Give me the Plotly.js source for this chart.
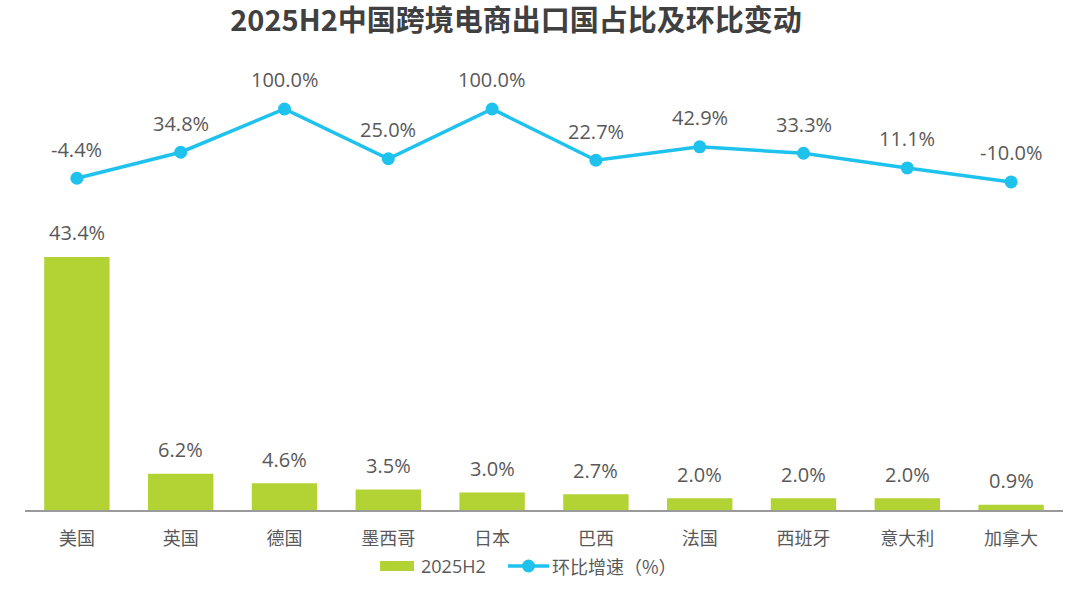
<!DOCTYPE html>
<html><head><meta charset="utf-8">
<script src="https://cdn.plot.ly/plotly-3.0.1.min.js"></script>
<style>html,body{margin:0;padding:0;background:#fff;}#chart{width:1080px;height:592px;}</style>
</head><body><div id="chart"></div>
<script>
const categories = ['美国','英国','德国','墨西哥','日本','巴西','法国','西班牙','意大利','加拿大'];
const shareValues = [43.4, 6.2, 4.6, 3.5, 3.0, 2.7, 2.0, 2.0, 2.0, 0.9];
const growthValues = [-4.4, 34.8, 100.0, 25.0, 100.0, 22.7, 42.9, 33.3, 11.1, -10.0];
const barName = '2025H2';
const lineName = '环比增速（%）';

const FONT = '"Open Sans", "Noto Sans CJK SC", sans-serif';
const CJK = '"Noto Sans CJK SC", "Open Sans", sans-serif';
const GRAY = '#595959';
const GREEN = '#b3d334';
const BLUE = '#1ec2ec';
const W = 1080, H = 592, ML = 25, MR = 17, MT = 60, MB = 82;
const px = v => (v - ML) / (W - ML - MR);
const py = v => (H - MB - v) / (H - MT - MB);

const traces = [
  {type:'bar', x:categories, y:shareValues, name:barName, marker:{color:GREEN}, yaxis:'y', hoverinfo:'none'},
  {type:'scatter', mode:'lines+markers', x:categories, y:growthValues, name:lineName, yaxis:'y2',
   line:{color:BLUE, width:3.5}, marker:{color:BLUE, size:13}, hoverinfo:'none'}
];

const annotations = [];
categories.forEach((c,i)=>{
  annotations.push({x:c, y:shareValues[i], yref:'y', xref:'x', text:shareValues[i].toFixed(1)+'%',
    showarrow:false, yshift:24, font:{family:FONT, size:20, color:GRAY}});
  annotations.push({x:c, y:growthValues[i], yref:'y2', xref:'x', text:growthValues[i].toFixed(1)+'%',
    showarrow:false, yshift:29, font:{family:FONT, size:20, color:GRAY}});
});
// custom legend
annotations.push({xref:'paper', yref:'paper', x:px(419), y:py(566), xanchor:'left', yanchor:'middle',
  text:barName, showarrow:false, font:{family:FONT, size:18, color:GRAY}});
annotations.push({xref:'paper', yref:'paper', x:px(550), y:py(566), xanchor:'left', yanchor:'middle',
  text:lineName, showarrow:false, font:{family:CJK, size:18, color:GRAY}});

const shapes = [
  {type:'rect', xref:'paper', yref:'paper', x0:px(380), x1:px(414), y0:py(571), y1:py(561),
   fillcolor:GREEN, line:{width:0}},
  {type:'line', xref:'paper', yref:'paper', x0:px(508), x1:px(549), y0:py(566), y1:py(566),
   line:{color:BLUE, width:3.5}},
  {type:'circle', xref:'paper', yref:'paper', x0:px(522), x1:px(535), y0:py(572.5), y1:py(559.5),
   fillcolor:BLUE, line:{width:0}}
];

const layout = {
  width:W, height:H,
  margin:{l:ML, r:MR, t:MT, b:MB, autoexpand:false},
  paper_bgcolor:'#fff', plot_bgcolor:'#fff',
  title:{text:'2025H2中国跨境电商出口国占比及环比变动', x:516/W, xanchor:'center', y:1-21/H, yanchor:'middle',
    font:{family:CJK, size:29, color:'#404040', weight:'bold'}},
  font:{family:CJK, color:GRAY},
  bargap:0.37,
  showlegend:false,
  xaxis:{type:'category', range:[-0.5, categories.length - 0.5], showline:true, linecolor:'#9a9a9a', linewidth:1.5, ticks:'', showgrid:false,
    zeroline:false, tickfont:{family:CJK, size:18, color:GRAY}, ticklabelstandoff:12, fixedrange:true, automargin:false},
  yaxis:{range:[0, 77.19], visible:false, showgrid:false, zeroline:false, fixedrange:true, automargin:false},
  yaxis2:{range:[-504.3, 173.8], overlaying:'y', visible:false, showgrid:false, zeroline:false, fixedrange:true, automargin:false},
  annotations:annotations,
  shapes:shapes
};
Plotly.newPlot('chart', traces, layout, {staticPlot:true, displayModeBar:false});
</script></body></html>
